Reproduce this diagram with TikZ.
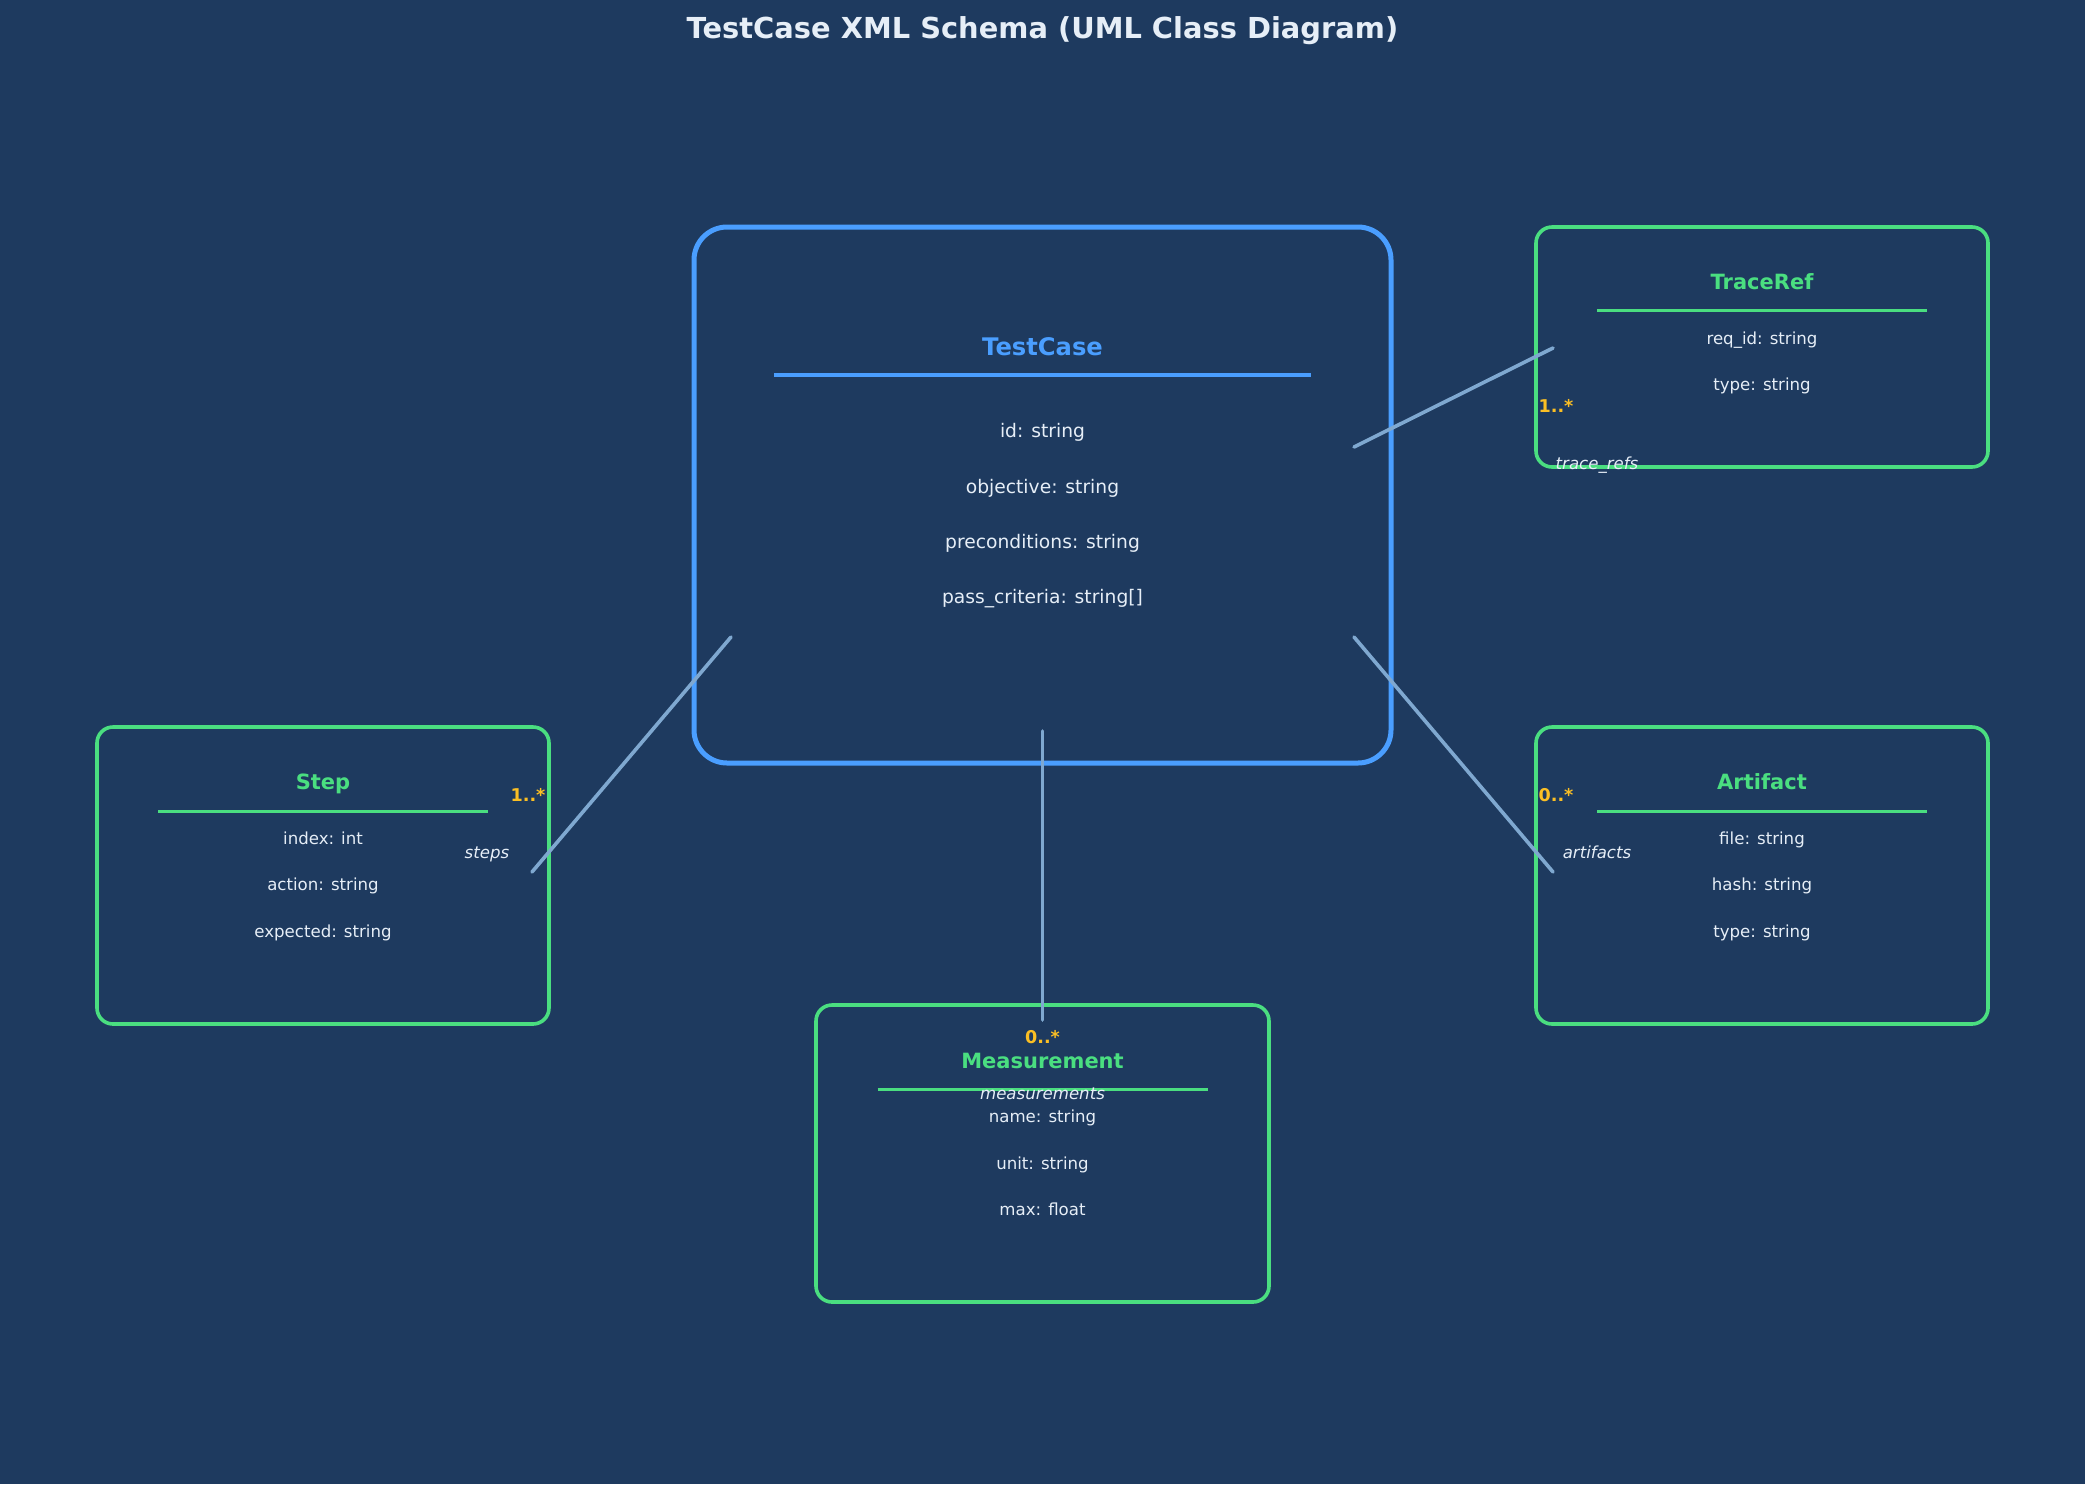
\documentclass[tikz,border=0pt]{standalone}
\usepackage{fontspec}
\setmainfont{DejaVu Sans}
\usetikzlibrary{calc}
\definecolor{bg}{HTML}{1E3A5F}
\definecolor{tcblue}{HTML}{4A9EFF}
\definecolor{grn}{HTML}{4ADE80}
\definecolor{conn}{HTML}{7FA8D0}
\definecolor{txt}{HTML}{E6EEF7}
\definecolor{mult}{HTML}{FBBF24}
\begin{document}
\begin{tikzpicture}[x=1pt,y=-1pt,
  txtbox/.style={inner sep=0pt, text depth=0pt},
  tcbox/.style={draw=tcblue, line width=5pt, rounded corners=33pt, minimum width=697pt, minimum height=536pt, inner sep=0pt},
  clsbox/.style={draw=grn, line width=3.6pt, rounded corners=16pt, minimum width=452pt, minimum height=297pt, inner sep=0pt},
  tcsep/.style={draw=tcblue, line width=4pt},
  clssep/.style={draw=grn, line width=3pt},
  conline/.style={draw=conn, line width=3.6pt, line cap=round},
  maintitle/.style={txtbox, text height=21.4pt, text=txt, font=\fontsize{28.9}{34}\selectfont\bfseries},
  tctitle/.style={txtbox, text height=17.9pt, text=tcblue, font=\fontsize{24.2}{29}\selectfont\bfseries},
  tcattr/.style={txtbox, text height=13.8pt, text=txt, font=\fontsize{18.7}{22}\selectfont},
  clstitle/.style={txtbox, text height=15.5pt, text=grn, font=\fontsize{21}{25}\selectfont\bfseries},
  clsattr/.style={txtbox, text height=12.3pt, text=txt, font=\fontsize{16.6}{20}\selectfont},
  multlbl/.style={txtbox, text height=13pt, text=mult, font=\fontsize{17.6}{21}\selectfont\bfseries},
  rolelbl/.style={txtbox, text height=12.3pt, text=txt, font=\fontsize{16.6}{20}\selectfont\itshape}
]
\fill[bg] (0,0) rectangle (2085,1484);
\useasboundingbox (0,0) rectangle (2085,1484);

% title
\node[maintitle] (title) at (1042.5,28) {TestCase XML Schema (UML Class Diagram)};

% boxes
\node[tcbox] (tc) at (1042.5,495) {};
\node[clsbox, minimum height=240pt] (tr) at (1762,347) {};
\node[clsbox] (st) at (323,875.5) {};
\node[clsbox] (ar) at (1762,875.5) {};
\node[clsbox, minimum width=453pt] (me) at (1042.5,1153.5) {};

% separators
\draw[tcsep] ($(tc.center)+(-268.5,-120)$) -- ($(tc.center)+(268.5,-120)$);
\draw[clssep] ($(tr.center)+(-165,-37)$) -- ($(tr.center)+(165,-37)$);
\draw[clssep] ($(st.center)+(-165,-64.5)$) -- ($(st.center)+(165,-64.5)$);
\draw[clssep] ($(ar.center)+(-165,-64.5)$) -- ($(ar.center)+(165,-64.5)$);
\draw[clssep] ($(me.center)+(-165,-64.5)$) -- ($(me.center)+(165,-64.5)$);

% connector ends
\coordinate (tcTR) at ($(tc.center)+(311.5,-48)$);
\coordinate (trE)  at ($(tr.center)+(-209,1)$);
\coordinate (tcST) at ($(tc.center)+(-311.5,142)$);
\coordinate (stE)  at ($(st.center)+(209,-3.5)$);
\coordinate (tcAR) at ($(tc.center)+(311.5,142)$);
\coordinate (arE)  at ($(ar.center)+(-209,-3.5)$);
\coordinate (tcME) at ($(tc.center)+(0,236)$);
\coordinate (meE)  at ($(me.center)+(0,-133.5)$);

\draw[conline] (tcTR) -- (trE);
\draw[conline] (tcST) -- (stE);
\draw[conline] (tcAR) -- (arE);
\draw[conline] (tcME) -- (meE);

% TestCase text
\node[tctitle] (tcT) at (1042.5,347) {TestCase};
\node[tcattr] (tc1) at (1042.5,431) {id: string};
\node[tcattr] (tc2) at (1042.5,487) {objective: string};
\node[tcattr] (tc3) at (1042.5,542) {preconditions: string};
\node[tcattr] (tc4) at (1042.5,597) {pass\_criteria: string[]};

% TraceRef text
\node[clstitle] (trT) at (1762,282) {TraceRef};
\node[clsattr] (tr1) at (1762,338) {req\_id: string};
\node[clsattr] (tr2) at (1762,384) {type: string};

% Step text
\node[clstitle] (stT) at (323,782) {Step};
\node[clsattr] (st1) at (323,838) {index: int};
\node[clsattr] (st2) at (323,884) {action: string};
\node[clsattr] (st3) at (323,931) {expected: string};

% Artifact text
\node[clstitle] (arT) at (1762,782) {Artifact};
\node[clsattr] (ar1) at (1762,838) {file: string};
\node[clsattr] (ar2) at (1762,884) {hash: string};
\node[clsattr] (ar3) at (1762,931) {type: string};

% Measurement text
\node[clstitle] (meT) at (1042.5,1061) {Measurement};
\node[clsattr] (me1) at (1042.5,1116) {name: string};
\node[clsattr] (me2) at (1042.5,1163) {unit: string};
\node[clsattr] (me3) at (1042.5,1209) {max: float};

% multiplicities and roles
\node[multlbl] (mTR) at (1556,406) {1..*};
\node[rolelbl] (rTR) at (1597,463) {trace\_refs};
\node[multlbl] (mST) at (528,795) {1..*};
\node[rolelbl] (rST) at (487,852) {steps};
\node[multlbl] (mAR) at (1556,795) {0..*};
\node[rolelbl] (rAR) at (1597,852) {artifacts};
\node[multlbl] (mME) at (1042.5,1037) {0..*};
\node[rolelbl] (rME) at (1042.5,1093) {measurements};
\end{tikzpicture}
\end{document}
